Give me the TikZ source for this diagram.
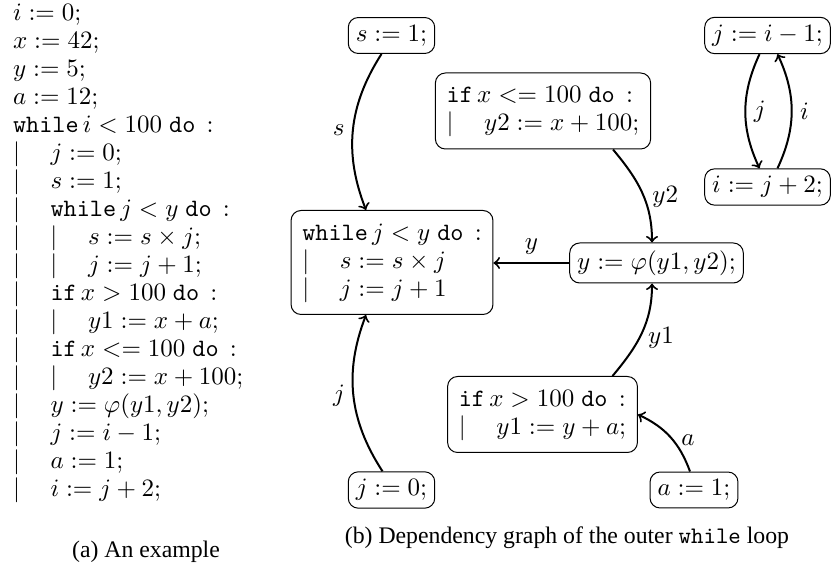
\documentclass[tikz,border=0pt]{standalone}
\usepackage{fontspec}
\setmainfont{Liberation Serif}
\usetikzlibrary{calc}
\newcommand\vbind{\makebox[15pt][l]{$|$}}
\newcommand\kwd[1]{\texttt{#1}}
\newcommand\docolon{\hspace{4.5pt}$:$}
\begin{document}
\begin{tikzpicture}[x=0.4pt,y=0.4pt,
  codefont/.style={font=\fontsize{10}{11.2}\selectfont},
  stmt/.style={draw, rounded corners=4pt, inner sep=3pt, line width=0.4pt, codefont},
  blockstmt/.style={stmt, inner xsep=4.5pt, inner ysep=4pt},
  dep/.style={->, thick},
  lbl/.style={inner sep=3pt, font=\fontsize{10}{12}\selectfont},
  capt/.style={font=\fontsize{9.5}{11.4}\selectfont, inner sep=0pt}]
\useasboundingbox (0,0) rectangle (831,572);

% (a) listing
\node[codefont, anchor=base west, inner sep=0pt] (code) at (12.5,551) {%
\begin{tabular}[t]{@{}l@{}}
$i := 0;$\\
$x := 42;$\\
$y := 5;$\\
$a := 12;$\\
\kwd{while}\,$i < 100$\;\kwd{do}\docolon\\
\vbind$j := 0;$\\
\vbind$s := 1;$\\
\vbind\kwd{while}\,$j < y$\;\kwd{do}\docolon\\
\vbind\vbind$s := s\times j;$\\
\vbind\vbind$j := j+1;$\\
\vbind\kwd{if}\,$x > 100$\;\kwd{do}\docolon\\
\vbind\vbind$y1 := x+a;$\\
\vbind\kwd{if}\,$x <= 100$\;\kwd{do}\docolon\\
\vbind\vbind$y2 := x+100;$\\
\vbind$y := \varphi(y1,y2);$\\
\vbind$j := i-1;$\\
\vbind$a := 1;$\\
\vbind$i := j+2;$
\end{tabular}};
\node[capt] (capa) at (146,20) {(a) An example};

% (b) dependency graph
\node[stmt] (s1) at (391.5,536.5) {$s := 1;$};
\node[blockstmt] (while) at (392,309.5) {%
\begin{tabular}{@{}l@{}}
\kwd{while}\,$j < y$\;\kwd{do}\docolon\\
\vbind$s := s\times j$\\
\vbind$j := j+1$
\end{tabular}};
\node[blockstmt] (if2) at (543,461) {%
\begin{tabular}{@{}l@{}}
\kwd{if}\,$x <= 100$\;\kwd{do}\docolon\\
\vbind$y2 := x+100;$
\end{tabular}};
\node[stmt] (jim1) at (767.5,536.5) {$j := i-1;$};
\node[stmt] (ij2) at (767.5,385) {$i := j+2;$};
\node[stmt] (phi) at (656.5,309) {$y := \varphi(y1,y2);$};
\node[blockstmt] (if1) at (542.5,157.5) {%
\begin{tabular}{@{}l@{}}
\kwd{if}\,$x > 100$\;\kwd{do}\docolon\\
\vbind$y1 := y+a;$
\end{tabular}};
\node[stmt] (j0) at (391.5,82) {$j := 0;$};
\node[stmt] (a1) at (694,82) {$a := 1;$};

\draw[dep] ($(s1.south)+(-10,0)$) to[bend right=27] node[lbl, left] {$s$} ($(while.north)+(-26,0)$);
\draw[dep] ($(j0.north)+(-9,0)$) to[bend left=27] node[lbl, left] {$j$} ($(while.south)+(-26,0)$);
\draw[dep] (phi.west) -- node[lbl, above] {$y$} (while.east |- phi.west);
\draw[dep] ($(if2.south)+(70,0)$) to[out=-50, in=90] node[lbl, right, pos=0.55] {$y2$} ($(phi.north)+(-4.5,0)$);
\draw[dep] ($(if1.north)+(70,0)$) to[out=50, in=-90] node[lbl, right, pos=0.45] {$y1$} ($(phi.south)+(-4.5,0)$);
\draw[dep] ($(a1.north)+(-4,0)$) to[out=110, in=-25] node[lbl, right, pos=0.45] {$a$} (if1.east);
\draw[dep] ($(jim1.south)+(-8,0)$) to[bend right=25] node[lbl, right] {$j$} ($(ij2.north)+(-8,0)$);
\draw[dep] ($(ij2.north)+(10,0)$) to[bend right=25] node[lbl, right] {$i$} ($(jim1.south)+(10,0)$);

\node[capt] (capb) at (567,34) {(b) Dependency graph of the outer \texttt{while} loop};
\end{tikzpicture}
\end{document}
